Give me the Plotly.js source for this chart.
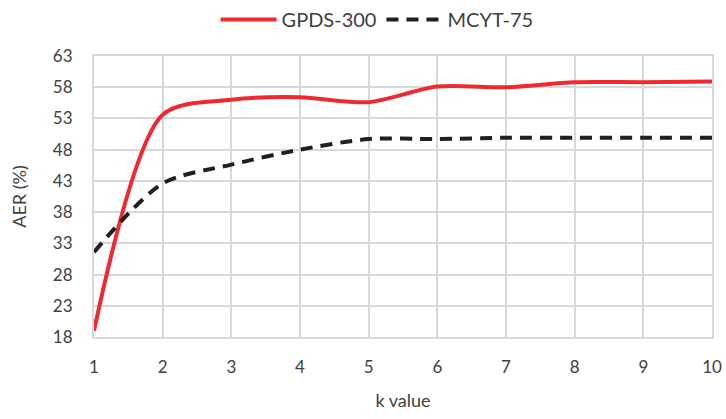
<!DOCTYPE html>
<html>
<head>
<meta charset="utf-8">
<script src="https://cdn.plot.ly/plotly-3.0.1.min.js"></script>
<style>html,body{margin:0;padding:0;background:#fff;}#chart{width:726px;height:419px;}</style>
</head>
<body>
<div id="chart"></div>
<script>
const kValues = [1, 2, 3, 4, 5, 6, 7, 8, 9, 10];
const gpds300 = [19, 53.6, 56.0, 56.4, 55.6, 58.1, 58.0, 58.8, 58.8, 58.9];
const mcyt75 = [31.6, 42.6, 45.6, 48.0, 49.7, 49.7, 49.9, 49.9, 49.9, 49.9];
const yTicks = [18, 23, 28, 33, 38, 43, 48, 53, 58, 63];
const xTicks = [1, 2, 3, 4, 5, 6, 7, 8, 9, 10];

const font = "Lato, 'Open Sans', sans-serif";
const traces = [
  {x: kValues, y: gpds300, name: 'GPDS-300', type: 'scatter', mode: 'lines',
   line: {color: '#ee2a30', width: 4, shape: 'spline', smoothing: 0.8}},
  {x: kValues, y: mcyt75, name: 'MCYT-75', type: 'scatter', mode: 'lines',
   line: {color: '#1f1f1f', width: 4, shape: 'spline', smoothing: 0.8, dash: '12px,8px'}}
];
const layout = {
  width: 726, height: 419,
  margin: {l: 94, r: 14, t: 56, b: 82},
  paper_bgcolor: '#ffffff', plot_bgcolor: '#ffffff',
  font: {family: font, size: 17, color: '#404040'},
  showlegend: true,
  legend: {orientation: 'h', x: 0.458, xanchor: 'center', y: 1.0, yanchor: 'top',
           yref: 'container', itemwidth: 56, font: {family: font, size: 20, color: '#404040'}},
  xaxis: {range: [1, 10], tickvals: xTicks, ticktext: xTicks.map(String),
          showgrid: true, gridcolor: '#d5d8de', gridwidth: 2, zeroline: false,
          showline: true, linecolor: '#d5d8de', linewidth: 2, mirror: true,
          ticks: '', ticklen: 0, ticklabelstandoff: 14,
          title: {text: 'k value', font: {family: font, size: 18, color: '#404040'}, standoff: 18}},
  yaxis: {range: [18, 63], tickvals: yTicks, ticktext: yTicks.map(String),
          showgrid: true, gridcolor: '#d5d8de', gridwidth: 2, zeroline: false,
          showline: true, linecolor: '#d5d8de', linewidth: 2, mirror: true,
          ticks: '', ticklen: 0, ticklabelstandoff: 16,
          title: {text: 'AER (%)', font: {family: font, size: 18, color: '#404040'}, standoff: 22}}
};
Plotly.newPlot('chart', traces, layout, {displayModeBar: false, staticPlot: true});
</script>
</body>
</html>
